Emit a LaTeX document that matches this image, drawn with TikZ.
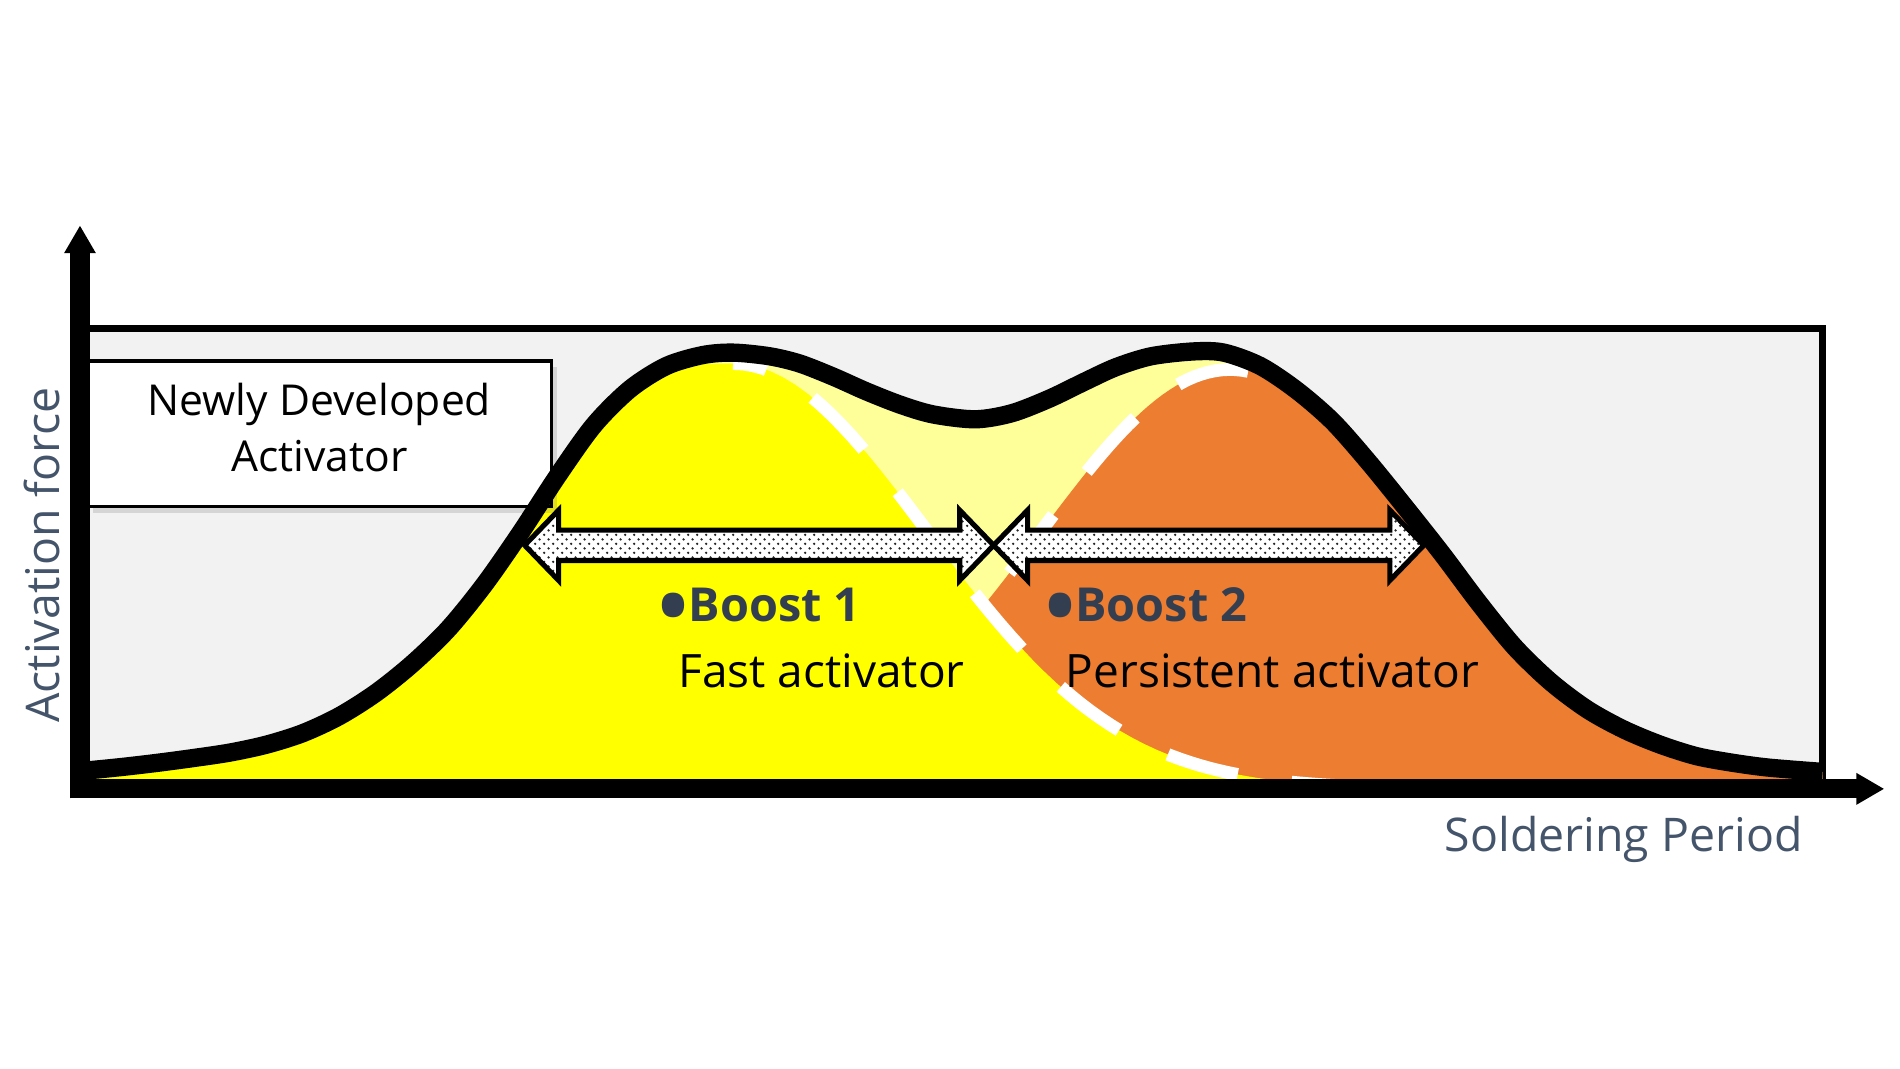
\documentclass[tikz,border=0pt]{standalone}
\usepackage{fontspec}
\setmainfont{Open Sans}
\usepackage{xcolor}
\usetikzlibrary{arrows.meta,calc,shadows,patterns.meta}

\definecolor{panelgray}{HTML}{F2F2F2}
\definecolor{fastyel}{HTML}{FFFF00}
\definecolor{paleyel}{HTML}{FFFF99}
\definecolor{persorange}{HTML}{ED7D31}
\definecolor{slate}{HTML}{333F50}
\definecolor{axisblue}{HTML}{44546A}

\tikzdeclarepattern{
  name=finedots,
  type=uncolored,
  bounding box={(0pt,0pt) and (2.2pt,2.2pt)},
  tile size={(2.2pt,2.2pt)},
  code={
    \fill (0.55pt,0.55pt) circle (0.32pt);
    \fill (1.65pt,1.65pt) circle (0.32pt);
  }
}

\newcommand{\boostarrow}[2]{%
  \draw[boostarrow] (#1) -- ++(0.28,0.29) -- ++(0,-0.165)
    -- ($(#2)+(-0.28,0.125)$) -- ++(0,0.165) -- (#2)
    -- ++(-0.28,-0.29) -- ++(0,0.165)
    -- ($(#1)+(0.28,-0.125)$) -- ++(0,-0.165) -- cycle;}

\newcommand{\bigdot}{\raisebox{-0.28em}{\scalebox{1.7}{\textbullet}}}

% envelope of the two activators
\def\envline{plot[smooth] coordinates {(0.70,0.15) (1.00,0.18) (1.30,0.215)
  (1.60,0.255) (1.90,0.30) (2.20,0.365) (2.50,0.46) (2.80,0.60) (3.10,0.79)
  (3.40,1.03) (3.70,1.32) (4.00,1.69) (4.30,2.12) (4.60,2.58) (4.90,3.00)
  (5.20,3.30) (5.50,3.49) (5.80,3.58) (6.05,3.60) (6.35,3.57) (6.60,3.51)
  (6.88,3.40) (7.15,3.28) (7.43,3.17) (7.70,3.09) (8.05,3.05) (8.35,3.10)
  (8.66,3.22) (8.95,3.36) (9.21,3.48) (9.50,3.57) (9.85,3.61) (10.10,3.60)
  (10.40,3.49) (10.70,3.29) (11.00,3.03) (11.30,2.69) (11.60,2.32)
  (11.90,1.94) (12.20,1.54) (12.50,1.17) (12.80,0.88) (13.10,0.655)
  (13.40,0.49) (13.70,0.365) (14.00,0.27) (14.30,0.215) (14.60,0.175)
  (15.04,0.14)}}

\begin{document}
\begin{tikzpicture}[
  declare function={
    gfast(\x)=3.51*exp(-((\x-6.05)^2)/5.12);
    gpers(\x)=3.46*exp(-((\x-10.15)^2)/4.99);
  },
  axisline/.style={line width=4.5pt, -{Triangle[width=0pt 1.55, length=0pt 1.45]}},
  envelope/.style={line width=4.3pt, line join=round},
  edgedash/.style={white, line width=3pt, dash pattern=on 0.6cm off 0.45cm},
  boostarrow/.style={draw=black, line width=1.2pt, preaction={fill=white},
    pattern=finedots, pattern color=black!85},
  axislabel/.style={text=axisblue, font=\fontsize{10.9}{12}\selectfont, inner sep=0pt},
  boostlabel/.style={text=slate, font=\fontsize{11}{12}\selectfont\bfseries,
    inner sep=0pt, anchor=base},
  desclabel/.style={font=\fontsize{10.8}{12}\selectfont, inner sep=0pt, anchor=base},
  notebox/.style={draw, line width=0.8pt, fill=white,
    minimum width=3.83cm, minimum height=1.20cm,
    drop shadow={shadow xshift=0.5mm, shadow yshift=-0.5mm, opacity=0.25}},
  notetext/.style={align=center, inner sep=0pt, font=\fontsize{10}{13.1}\selectfont}
]
  \useasboundingbox (0,-2.31) rectangle (15.68,6.51);

  \coordinate (orig) at (0.66,0);
  \coordinate (ytop) at (0.66,4.65);
  \coordinate (xend) at (15.55,0);
  \coordinate (panelcorner) at (15.04,3.80);

  \draw[fill=panelgray, line width=1.5pt] (orig) rectangle (panelcorner);

  \begin{scope}
    \clip \envline -- (15.04,0) -- (orig) -- cycle;
    \fill[paleyel] (0,0) rectangle (16,4);
    \fill[persorange] (6.5,0) -- plot[domain=6.5:10.15, samples=60] (\x,{gpers(\x)})
      -- (15.2,3.46) -- (15.2,0) -- cycle;
    \draw[edgedash] plot[domain=10.3:7.6, samples=50] (\x,{gpers(\x)});
    \fill[fastyel] (0.5,0) -- (0.5,3.51) -- (6.05,3.51)
      -- plot[domain=6.05:15.2, samples=90] (\x,{gfast(\x)}) -- (15.2,0) -- cycle;
    \draw[edgedash, dash phase=0.32cm] plot[domain=6.05:11.7, samples=70] (\x,{gfast(\x)});
  \end{scope}

  \node[notebox] (newact) at (2.635,2.93) {};
  \node[notetext] (newtext) at ([yshift=0.05cm]newact.center) {Newly Developed\\Activator};

  \draw[envelope] \envline;

  \draw[axisline] ([yshift=-2.25pt]orig) -- (ytop);
  \draw[axisline] ([xshift=-2.25pt]orig) -- (xend);

  \coordinate (arrL) at (4.33,2.01);
  \coordinate (arrM) at (8.20,2.01);
  \coordinate (arrR) at (11.75,2.01);
  \boostarrow{arrL}{arrM}
  \boostarrow{arrM}{arrR}

  \node[boostlabel] (boostA) at (6.27,1.38) {\bigdot Boost 1};
  \node[desclabel] (fastA) at (6.78,0.84) {Fast activator};
  \node[boostlabel] (boostB) at (9.46,1.38) {\bigdot Boost 2};
  \node[desclabel] (persB) at (10.50,0.84) {Persistent activator};

  \node[axislabel, rotate=90] (ylab) at (0.35,1.93) {Activation force};
  \node[axislabel, anchor=base] (xlab) at (13.40,-0.52) {Soldering Period};
\end{tikzpicture}
\end{document}
